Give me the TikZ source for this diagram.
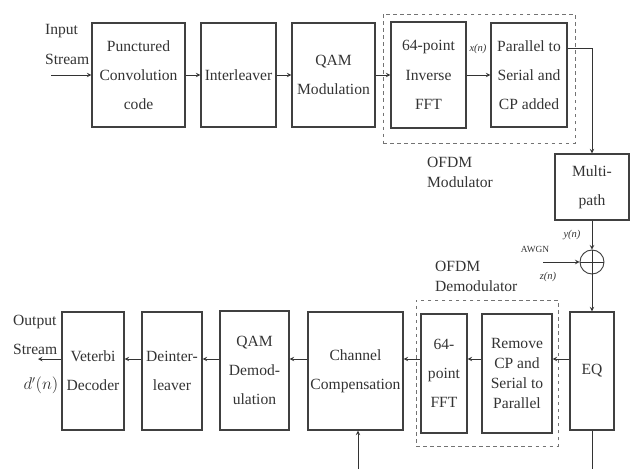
\documentclass[tikz,border=0pt]{standalone}
\usepackage{fontspec}
\setmainfont{Liberation Serif}
\usetikzlibrary{positioning}

\begin{document}
\begin{tikzpicture}[x=0.03cm, y=-0.03cm, >=stealth,
  box/.style={rectangle, draw=black!75, line width=1.1pt, align=center, inner sep=1pt, text=black!80, font=\fontsize{13.3}{25}\selectfont},
  link/.style={->, line width=0.7pt, draw=black!80},
  wire/.style={line width=0.7pt, draw=black!80},
  grp/.style={draw=black!55, dashed, line width=0.6pt},
  lbl/.style={align=left, text=black!80, font=\fontsize{13.3}{17}\selectfont},
  sig/.style={text=black!80, font=\fontsize{9}{10}\selectfont\itshape}]
\useasboundingbox (0,0) rectangle (635,469);

% dashed groups
\node[grp, minimum width=5.76cm, minimum height=3.87cm] (modgrp) at (479,78.5) {};
\node[grp, minimum width=4.26cm, minimum height=4.38cm] (demodgrp) at (487,373) {};

% transmitter
\node[box, minimum width=2.79cm, minimum height=3.12cm] (conv) at (138.5,75) {Punctured\\Convolution\\code};
\node[box, minimum width=2.25cm, minimum height=3.12cm] (intl) at (238.5,75) {Interleaver};
\node[box, minimum width=2.49cm, minimum height=3.12cm] (qam) at (333.5,75) {QAM\\Modulation};
\node[box, minimum width=2.25cm, minimum height=3.18cm] (ifft) at (428.5,75) {64-point\\Inverse\\FFT};
\node[box, minimum width=2.28cm, minimum height=3.12cm] (ps) at (529,75) {Parallel to\\Serial and\\CP added};

% channel
\node[box, minimum width=2.22cm, minimum height=1.98cm] (mp) at (592,187) {Multi-\\path};
\node[circle, draw=black!75, line width=0.8pt, minimum size=0.72cm, inner sep=0pt] (sum) at (592,262) {};

% receiver
\node[box, minimum width=1.32cm, minimum height=3.54cm] (eq) at (592,371) {EQ};
\node[box, minimum width=2.1cm, minimum height=3.57cm, font=\fontsize{13.3}{17}\selectfont] (rmcp) at (517,373.5) {Remove\\CP and\\Serial to\\Parallel};
\node[box, minimum width=1.38cm, minimum height=3.57cm] (fft) at (444,373.5) {64-\\point\\FFT};
\node[box, minimum width=2.85cm, minimum height=3.54cm] (chc) at (355.5,371) {Channel\\Compensation};
\node[box, minimum width=2.07cm, minimum height=3.57cm] (qamd) at (254.5,370.5) {QAM\\Demod-\\ulation};
\node[box, minimum width=1.8cm, minimum height=3.54cm] (deint) at (172,371) {Deinter-\\leaver};
\node[box, minimum width=1.86cm, minimum height=3.54cm] (vit) at (93,371) {Veterbi\\Decoder};

% labels
\node[lbl, anchor=west, font=\fontsize{13.3}{26}\selectfont] (inlbl) at (41,44.5) {Input\\Stream};
\node[lbl, anchor=west, font=\fontsize{13.3}{25}\selectfont] (outlbl) at (9,335) {Output\\Stream};
\node[text=black!80, font=\fontsize{13.3}{15}\selectfont] (dlbl) at (41,385) {$d'(n)$};
\node[sig] (xlbl) at (478,49) {x(n)};
\node[lbl, anchor=west] (modlbl) at (423,172) {OFDM\\Modulator};
\node[lbl, anchor=west] (demodlbl) at (431,276) {OFDM\\Demodulator};
\node[sig] (ylbl) at (572,235) {y(n)};
\node[text=black!80, font=\fontsize{8}{9}\selectfont] (awgnlbl) at (535,249) {AWGN};
\node[sig] (zlbl) at (548,277) {z(n)};

% free ends
\coordinate (in) at (51,75);
\coordinate (out) at (38,359);
\coordinate (awgn) at (543,262);
\coordinate (eqend) at (592,469);
\coordinate (chin) at (358,469);
\coordinate (row) at (0,359);

% connectors
\draw[link] (in) -- (conv);
\draw[link] (conv) -- (intl);
\draw[link] (intl) -- (qam);
\draw[link] (qam) -- (ifft);
\draw[link] (ifft) -- (ps);
\draw[link] ([yshift=0.81cm]ps.east) -| (mp.north);
\draw[link] (mp) -- (sum);
\draw[link] (awgn) -- (sum);
\draw[wire] (sum.north) -- (sum.south) (sum.west) -- (sum.east);
\draw[link] (sum) -- (eq);
\draw[wire] (eq) -- (eqend);
\draw[link] (eq.west |- row) -- (rmcp.east |- row);
\draw[link] (rmcp.west |- row) -- (fft.east |- row);
\draw[link] (fft.west |- row) -- (chc.east |- row);
\draw[link] (chc.west |- row) -- (qamd.east |- row);
\draw[link] (qamd.west |- row) -- (deint.east |- row);
\draw[link] (deint.west |- row) -- (vit.east |- row);
\draw[link] (vit.west |- row) -- (out);
\draw[link] (chin) -- (chc.south -| chin);
\end{tikzpicture}
\end{document}
